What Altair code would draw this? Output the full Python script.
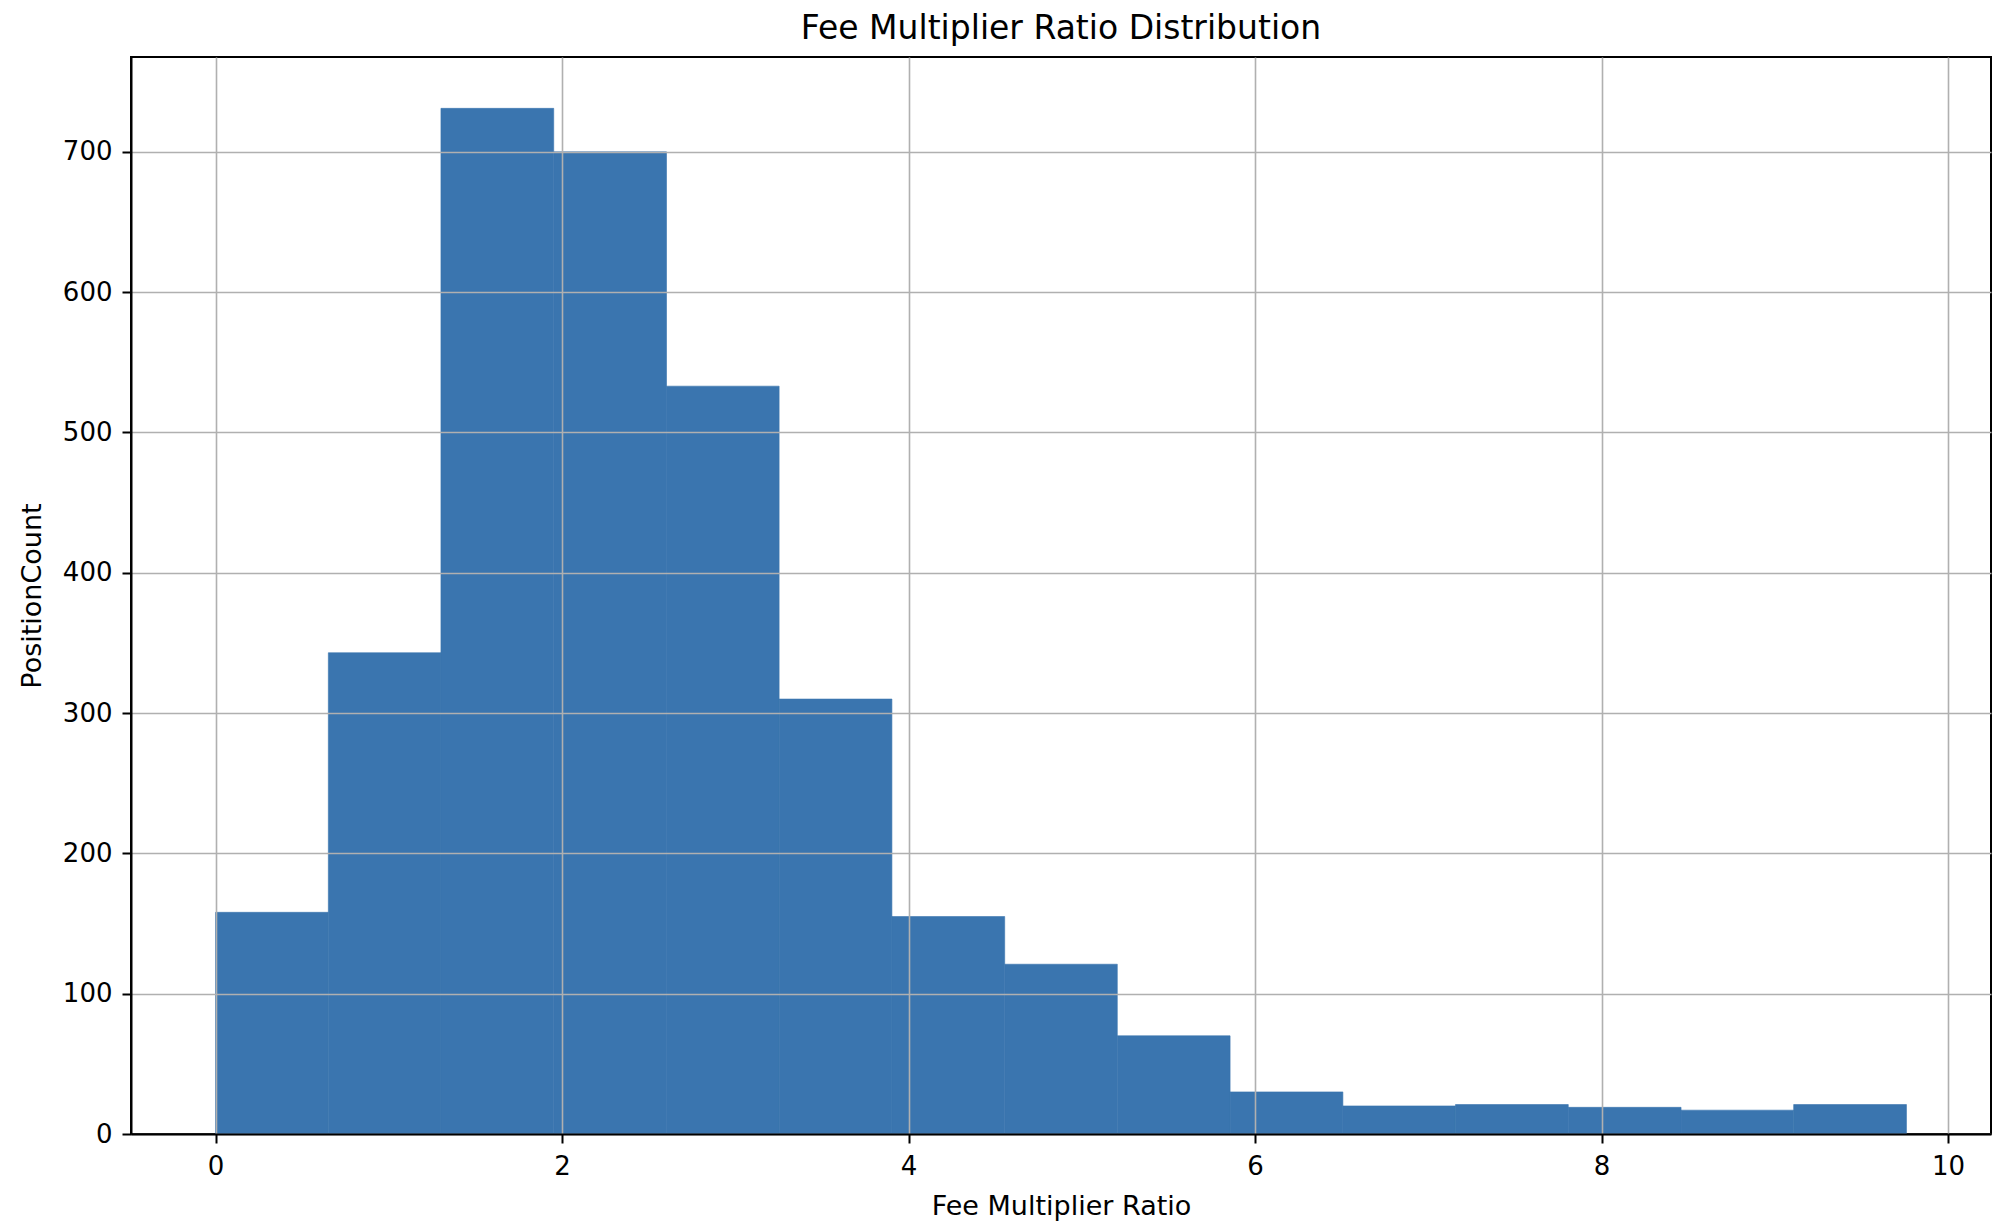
import altair as alt
import pandas as pd

# Histogram bins (15 equal bins from 0 to ~9.76)
bin_start = [0.000, 0.651, 1.301, 1.952, 2.603, 3.253, 3.904, 4.555, 5.205, 5.856, 6.507, 7.157, 7.808, 8.459, 9.109]
bin_end   = [0.651, 1.301, 1.952, 2.603, 3.253, 3.904, 4.555, 5.205, 5.856, 6.507, 7.157, 7.808, 8.459, 9.109, 9.760]
counts    = [158, 343, 731, 700, 533, 310, 155, 121, 70, 30, 20, 21, 19, 17, 21]

x_ticks = [0, 2, 4, 6, 8, 10]
y_ticks = [0, 100, 200, 300, 400, 500, 600, 700]

df = pd.DataFrame({"start": bin_start, "end": bin_end, "count": counts})

FONT = "DejaVu Sans"
BAR = "#3a75af"

chart = alt.Chart(df).mark_rect(color=BAR, stroke=BAR, strokeWidth=0.6).encode(
    x=alt.X(
        "start:Q",
        scale=alt.Scale(domain=[-0.488, 10.248], nice=False, zero=False),
        axis=alt.Axis(
            values=x_ticks, format="d", title="Fee Multiplier Ratio",
            grid=True, gridColor="#b0b0b0", gridWidth=1.6,
            domainColor="black", domainWidth=2,
            tickColor="black", tickSize=9, tickWidth=2,
            labelFont=FONT, labelFontSize=26, labelColor="black", labelPadding=10,
            titleFont=FONT, titleFontSize=27, titleFontWeight="normal",
            titleColor="black", titlePadding=14, zindex=1,
        ),
    ),
    x2="end:Q",
    y=alt.Y(
        "count:Q",
        scale=alt.Scale(domain=[0, 767.6], nice=False),
        axis=alt.Axis(
            values=y_ticks, format="d", title="PositionCount",
            grid=True, gridColor="#b0b0b0", gridWidth=1.6,
            domainColor="black", domainWidth=2,
            tickColor="black", tickSize=9, tickWidth=2,
            labelFont=FONT, labelFontSize=26, labelColor="black", labelPadding=10,
            titleFont=FONT, titleFontSize=27, titleFontWeight="normal",
            titleColor="black", titlePadding=16, zindex=1,
        ),
    ),
    y2=alt.datum(0),
).properties(
    width=1860,
    height=1077,
    background="white",
    title=alt.TitleParams(
        "Fee Multiplier Ratio Distribution",
        font=FONT, fontSize=33, fontWeight="normal", color="black",
        anchor="middle", offset=11,
    ),
    padding={"left": 131, "top": 57, "right": 5, "bottom": 88},
    autosize=alt.AutoSizeParams(type="none"),
).configure_view(
    stroke="black", strokeWidth=2
)

chart.save("out.html", embed_options={"renderer": "svg", "actions": False})
